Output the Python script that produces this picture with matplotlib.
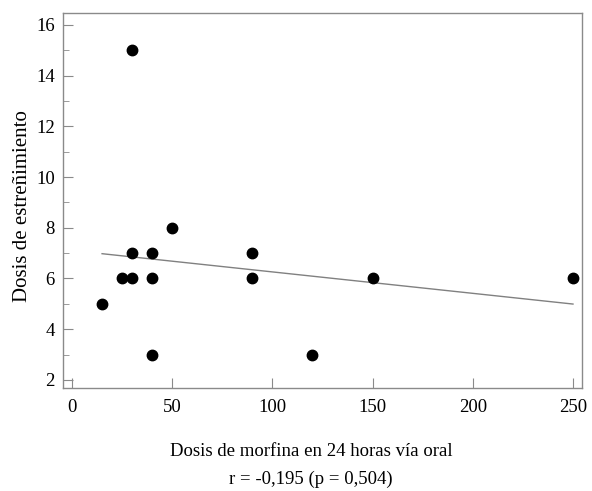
import numpy as np
import matplotlib
matplotlib.use("Agg")
import matplotlib.pyplot as plt
from matplotlib.ticker import MultipleLocator

plt.rcParams['font.family'] = ['Liberation Serif', 'DejaVu Serif']

morfina = [15, 25, 30, 30, 30, 40, 40, 40, 50, 90, 90, 120, 150, 250]
estrenimiento = [5, 6, 6, 7, 15, 6, 7, 3, 8, 7, 6, 3, 6, 6]
x_ticks = [0, 50, 100, 150, 200, 250]
y_ticks = [2, 4, 6, 8, 10, 12, 14, 16]

W, H = 592, 491
fig = plt.figure(figsize=(W / 100, H / 100), dpi=100)
ax = fig.add_axes([63 / W, 1 - 388 / H, (582 - 63) / W, (388 - 13) / H])

x = np.array(morfina, dtype=float)
y = np.array(estrenimiento, dtype=float)
slope, intercept = np.polyfit(x, y, 1)
xl = np.array([x.min(), x.max()])
ax.plot(xl, slope * xl + intercept, color='#808080', lw=1.0, zorder=2)
ax.plot(x, y, 'o', color='black', markersize=7.5, zorder=3)

ax.set_xlim(-4.5, 254.5)
ax.set_ylim(1.68, 16.47)
ax.set_xticks(x_ticks)
ax.set_yticks(y_ticks)
ax.yaxis.set_minor_locator(MultipleLocator(1))

gray = '#8a8a8a'
for s in ax.spines.values():
    s.set_color(gray)
    s.set_linewidth(1.0)
ax.tick_params(which='major', direction='in', length=7, color=gray, labelsize=13.5, pad=6)
ax.tick_params(which='minor', direction='in', length=4.5, color=gray)
ax.tick_params(axis='x', pad=8)

fig.text(23 / W, 1 - 206 / H, 'Dosis de estreñimiento', rotation=90,
         ha='center', va='center', fontsize=15)
fig.text(311 / W, 1 - 451 / H, 'Dosis de morfina en 24 horas vía oral',
         ha='center', va='center', fontsize=13.5)
fig.text(311 / W, 1 - 479 / H, 'r = -0,195 (p = 0,504)',
         ha='center', va='center', fontsize=13.5)

fig.savefig('out.png', dpi=100)
